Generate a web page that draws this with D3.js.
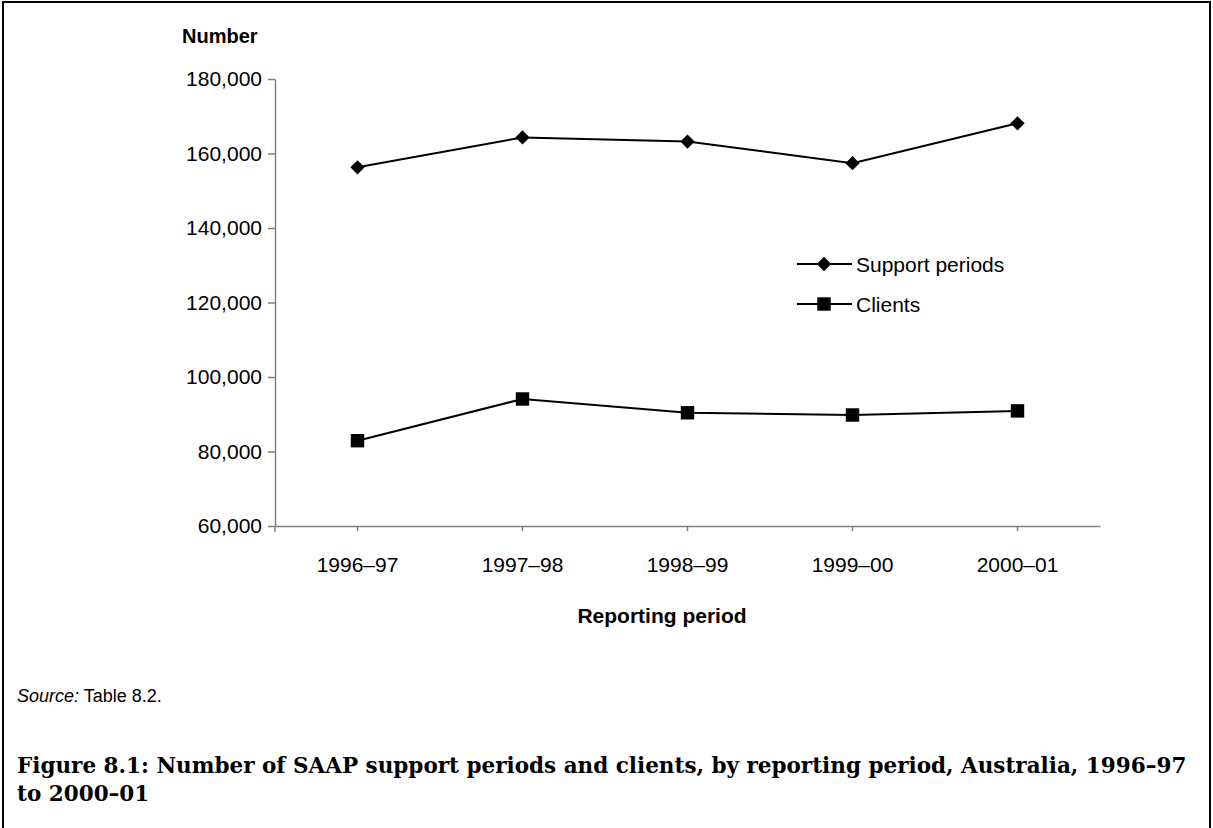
<!DOCTYPE html>
<html lang="en">
	<head>
		<meta charset="UTF-8">
		<title>Figure 8.1</title>
		<script src="https://d3js.org/d3.v7.min.js"></script>
		<style>
			body {
				margin: 0;
				background: white;
			}

			text {
				font-family: Arial, "Liberation Sans", sans-serif;
				fill: black;
			}

			.axis path, .axis line {
				stroke: #808080;
				stroke-width: 1.5;
			}

			.caption {
				font-family: "Book Antiqua", Palatino, "DejaVu Serif", serif;
				font-weight: bold;
			}
		</style>
	</head>
	<body>
		<svg id="chart" width="1213" height="828"></svg>
		<script>
			const periods = ["1996–97", "1997–98", "1998–99", "1999–00", "2000–01"]
			const supportPeriods = [156300, 164300, 163200, 157400, 168100]
			const clients = [82900, 94100, 90400, 89800, 90900]
			const yTicks = [60000, 80000, 100000, 120000, 140000, 160000, 180000]
			const seriesNames = ["Support periods", "Clients"]

			const svg = d3.select("#chart")
			const plotLeft = 275, plotRight = 1100, plotTop = 79, plotBottom = 526

			// frame round the figure (open at the bottom)
			svg.append("path")
				.attr("d", "M3,828V2H1210V828")
				.attr("fill", "none")
				.attr("stroke", "black")
				.attr("stroke-width", 2)

			const x = d3.scaleBand().domain(periods).range([plotLeft, plotRight])
			const y = d3.scaleLinear().domain([60000, 180000]).range([plotBottom, plotTop])

			const yAxis = svg.append("g")
				.classed("axis", true)
				.attr("transform", `translate(${plotLeft},0)`)
				.call(d3.axisLeft(y).tickValues(yTicks).tickSize(7).tickSizeOuter(0).tickPadding(6).tickFormat(d3.format(",")))
			yAxis.selectAll("text").style("font-size", "21px").attr("fill", "black")

			const xAxis = svg.append("g")
				.classed("axis", true)
				.attr("transform", `translate(0,${plotBottom})`)
				.call(d3.axisBottom(x).tickSize(5).tickSizeOuter(0).tickPadding(26))
			xAxis.selectAll("text").style("font-size", "21px").attr("fill", "black")
			xAxis.append("line")
				.attr("x1", plotLeft).attr("x2", plotLeft).attr("y1", 0).attr("y2", 6)

			svg.append("text")
				.attr("x", 182).attr("y", 43)
				.style("font-size", "20px").style("font-weight", "bold")
				.text("Number")

			svg.append("text")
				.attr("x", 662).attr("y", 623)
				.attr("text-anchor", "middle")
				.style("font-size", "21px").style("font-weight", "bold")
				.text("Reporting period")

			const line = d3.line()
				.x((d, i) => x(periods[i]) + x.bandwidth() / 2)
				.y(d => y(d))

			const diamond = d3.symbol().type(d3.symbolDiamond2).size(130)
			const square = d3.symbol().type(d3.symbolSquare).size(180)
			const series = [
				{ name: seriesNames[0], values: supportPeriods, symbol: diamond },
				{ name: seriesNames[1], values: clients, symbol: square }
			]

			series.forEach(function (s) {
				svg.append("path")
					.attr("d", line(s.values))
					.attr("fill", "none")
					.attr("stroke", "black")
					.attr("stroke-width", 2)
				svg.selectAll(null)
					.data(s.values)
					.join("path")
					.attr("d", s.symbol)
					.attr("transform", (d, i) => `translate(${x(periods[i]) + x.bandwidth() / 2},${y(d)})`)
					.attr("fill", "black")
			})

			// legend
			const legend = svg.append("g").attr("transform", "translate(797,264)")
			series.forEach(function (s, i) {
				const g = legend.append("g").attr("transform", `translate(0,${i * 40})`)
				g.append("line")
					.attr("x1", 0).attr("x2", 55)
					.attr("stroke", "black").attr("stroke-width", 2)
				g.append("path")
					.attr("d", s.symbol)
					.attr("transform", "translate(27,0)")
				g.append("text")
					.attr("x", 59).attr("y", 8)
					.style("font-size", "21px")
					.text(s.name)
			})

			const source = svg.append("text")
				.attr("x", 17).attr("y", 702)
				.style("font-size", "18px")
			source.append("tspan").style("font-style", "italic").text("Source:")
			source.append("tspan").text(" Table 8.2.")

			const cap = svg.append("text")
				.classed("caption", true)
				.style("font-size", "21.5px")
			cap.append("tspan").attr("x", 17).attr("y", 773)
				.text("Figure 8.1: Number of SAAP support periods and clients, by reporting period, Australia, 1996–97")
			cap.append("tspan").attr("x", 17).attr("y", 801)
				.text("to 2000–01")
		</script>
	</body>
</html>
